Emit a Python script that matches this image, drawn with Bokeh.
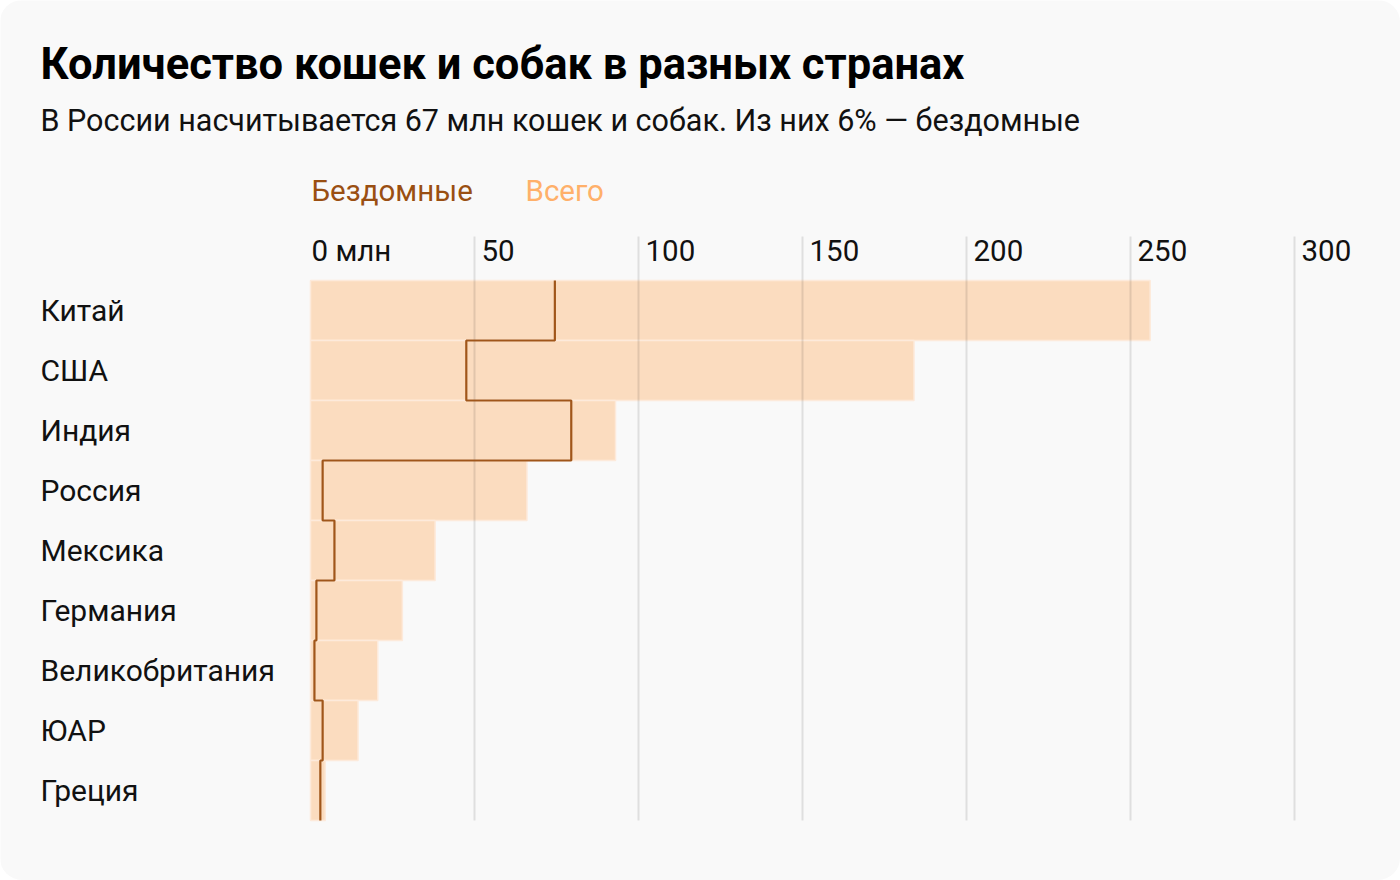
from bokeh.plotting import figure
from bokeh.models import Range1d, ColumnDataSource
from bokeh.core.properties import value
from bokeh.embed import file_html
from bokeh.resources import INLINE

# ---------------- data ----------------
countries = ["Китай", "США", "Индия", "Россия", "Мексика", "Германия",
             "Великобритания", "ЮАР", "Греция"]
total = [256, 184, 93, 66, 38, 28, 20.5, 14.5, 4.5]      # млн, всего
homeless = [74.5, 47.5, 79.5, 3.7, 7.3, 1.8, 1.2, 3.7, 3]  # млн, бездомные
ticks = [0, 50, 100, 150, 200, 250, 300]
tick_labels = ["0 млн", "50", "100", "150", "200", "250", "300"]

title = "Количество кошек и собак в разных странах"
subtitle = "В России насчитывается 67 млн кошек и собак. Из них 6% — бездомные"
legend_labels = ["Бездомные", "Всего"]

# ---------------- layout ----------------
W, H = 1400, 880
X0_PX, PX_PER = 310, 3.28      # pixel of value 0, pixels per unit
Y0_PX, ROW_PX = 310, 60        # pixel of first row centre, row height

def px2x(px):
    return (px - X0_PX) / PX_PER

def py2y(py):
    return (py - Y0_PX) / ROW_PX

BG = "#f9f9f9"
BAR = "#fbdcbf"
BAR_EDGE = "#fdeadb"
LINE = "#a0561a"
LEG_DARK = "#9a4f12"
LEG_LIGHT = "#ffb06a"
FONT = value("Roboto")

p = figure(width=W, height=H, output_backend="svg", toolbar_location=None,
           x_range=Range1d(px2x(0), px2x(W)),
           y_range=Range1d(py2y(H), py2y(0)),
           min_border=0, min_border_left=0, min_border_right=0,
           min_border_top=0, min_border_bottom=0)
p.axis.visible = False
p.grid.visible = False
p.outline_line_color = None
p.background_fill_color = BG
p.border_fill_color = BG
p.styles = {"border-radius": "22px", "overflow": "hidden"}

n = len(countries)
rows = list(range(n))

# bars (total)
p.hbar(y=rows, left=0, right=total, height=1.0,
       fill_color=BAR, line_color=BAR_EDGE, line_width=1.5)

# gridlines (skip zero)
gx = [t for t in ticks if t != 0]
p.segment(x0=gx, x1=gx, y0=[py2y(236)] * len(gx), y1=[n - 0.5] * len(gx),
          line_color="black", line_alpha=0.1, line_width=2)

# homeless step line
sx, sy = [], []
for i, v in enumerate(homeless):
    sx += [v, v]
    sy += [i - 0.5, i + 0.5]
p.line(x=sx, y=sy, line_color=LINE, line_width=2.2)

# tick labels
tsrc = ColumnDataSource(dict(x=ticks, t=tick_labels,
                             off=[1 if t == 0 else 7 for t in ticks]))
p.text(x="x", y=py2y(250), text="t", x_offset="off", source=tsrc,
       text_font=FONT, text_font_size="29.5px", text_color="#111111",
       text_align="left", text_baseline="middle")

# country labels
p.text(x=px2x(40), y=rows, text=countries,
       text_font=FONT, text_font_size="30px", text_color="#111111",
       text_align="left", text_baseline="middle")

# title / subtitle
p.text(x=px2x(40), y=py2y(64), text=[title], text_font=FONT,
       text_font_style="bold", text_font_size="43.5px", text_color="#000000",
       text_align="left", text_baseline="middle")
p.text(x=px2x(40), y=py2y(120), text=[subtitle], text_font=FONT,
       text_font_size="30.5px", text_color="#111111",
       text_align="left", text_baseline="middle")

# legend
p.text(x=[px2x(311), px2x(525)], y=py2y(190), text=legend_labels,
       text_color=[LEG_DARK, LEG_LIGHT], text_font=FONT,
       text_font_size="29.5px", text_align="left", text_baseline="middle")

html = file_html(p, INLINE)
html = html.replace("<head>", "<head><style>html,body{margin:0;padding:0;background:#ffffff;}</style>", 1)
open("out.html", "w").write(html)
